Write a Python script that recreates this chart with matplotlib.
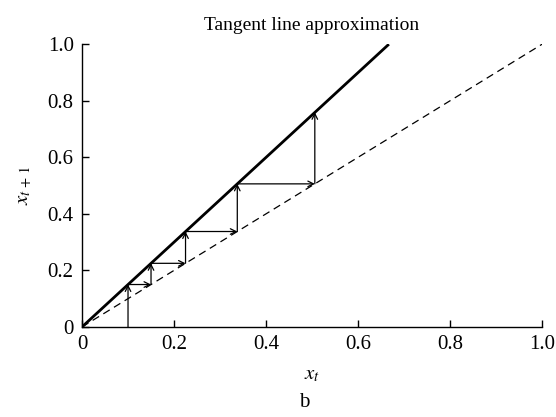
import matplotlib
matplotlib.use('Agg')
import matplotlib.pyplot as plt

# lines
tangent_x = [0.0, 0.667]
tangent_y = [0.0, 1.0]
diag_x = [0.0, 1.0]
diag_y = [0.0, 1.0]

# cobweb steps
step_x = [0.1, 0.15, 0.225, 0.3375, 0.506]
step_y = [0.15, 0.225, 0.3375, 0.506, 0.759]

ticks = [0, 0.2, 0.4, 0.6, 0.8, 1.0]
tick_labels = ["0", "0.2", "0.4", "0.6", "0.8", "1.0"]

plt.rcParams['font.family'] = ['Liberation Serif', 'DejaVu Serif']
plt.rcParams['mathtext.fontset'] = 'stix'

fig = plt.figure(figsize=(5.56, 4.17), dpi=100)
ax = fig.add_axes([0.1475, 0.216, 0.8275, 0.678])

ax.plot(tangent_x, tangent_y, color='black', lw=2.0, solid_capstyle='butt')
ax.plot(diag_x, diag_y, color='black', lw=0.9, dashes=(6, 4))

arrow = dict(arrowstyle='->', color='black', lw=0.9, shrinkA=0, shrinkB=0,
             mutation_scale=10)
prev = 0.0
for i, (x, y) in enumerate(zip(step_x, step_y)):
    ax.annotate('', xy=(x, y), xytext=(x, prev), arrowprops=arrow)
    if i < len(step_x) - 1:
        ax.annotate('', xy=(y, y), xytext=(x, y), arrowprops=arrow)
    prev = y

ax.set_xlim(0, 1.0)
ax.set_ylim(0, 1.0)
ax.set_xticks(ticks)
ax.set_xticklabels(tick_labels)
ax.set_yticks(ticks)
ax.set_yticklabels(tick_labels)
ax.tick_params(direction='in', length=5, width=1, labelsize=15, pad=6)
for s in ['top', 'right']:
    ax.spines[s].set_visible(False)
for s in ['left', 'bottom']:
    ax.spines[s].set_linewidth(1)

ax.set_title('Tangent line approximation', fontsize=14, pad=10)
ax.set_xlabel('$x_t$', fontsize=15, labelpad=8)
ax.set_ylabel(r'$x_{t\,+\,1}$', fontsize=15, labelpad=10)
fig.text(0.5475, 0.025, 'b', fontsize=15, ha='center')

fig.savefig('out.png', dpi=100)
